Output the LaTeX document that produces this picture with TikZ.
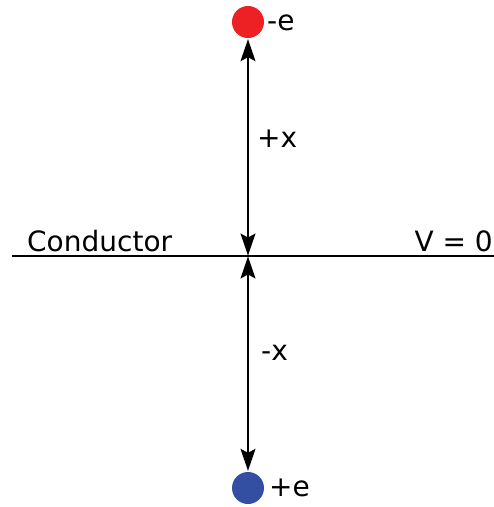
\documentclass[tikz,border=0pt]{standalone}
\usepackage{fontspec}
\setmainfont{DejaVu Sans}
\usetikzlibrary{arrows.meta}
\definecolor{dotred}{RGB}{237,32,36}
\definecolor{dotblue}{RGB}{51,79,162}
\begin{document}
\begin{tikzpicture}[x=1pt,y=-1pt,
  charge/.style={circle,minimum size=32pt,inner sep=0pt},
  lbl/.style={font=\fontsize{28}{32}\selectfont,inner sep=0pt},
  dim/.style={line width=1.6pt,{Stealth[length=22pt,width=15pt,inset=4pt]}-{Stealth[length=22pt,width=15pt,inset=4pt]}}]
\useasboundingbox (0,0) rectangle (494,507);
\node[charge,fill=dotred] (neg) at (248,22) {};
\node[charge,fill=dotblue] (pos) at (248,488) {};
\coordinate (L) at (12,256);
\coordinate (R) at (494,256);
\coordinate (O) at (248,256);
\draw[line width=2.2pt] (L) -- (R);
\draw[dim,shorten <=1pt,shorten >=0.5pt] (neg) -- (O);
\draw[dim,shorten <=0.5pt,shorten >=1pt] (O) -- (pos);
\node[lbl,anchor=west] (ne) at (267,23) {-e};
\node[lbl,anchor=west] (pe) at (269,488) {+e};
\node[lbl,anchor=west] (px) at (257,139) {+x};
\node[lbl,anchor=west] (mx) at (261,353) {-x};
\node[lbl,anchor=base west] (cond) at (27,251) {Conductor};
\node[lbl,anchor=base east] (v0) at (493,251) {V = 0};
\end{tikzpicture}
\end{document}
